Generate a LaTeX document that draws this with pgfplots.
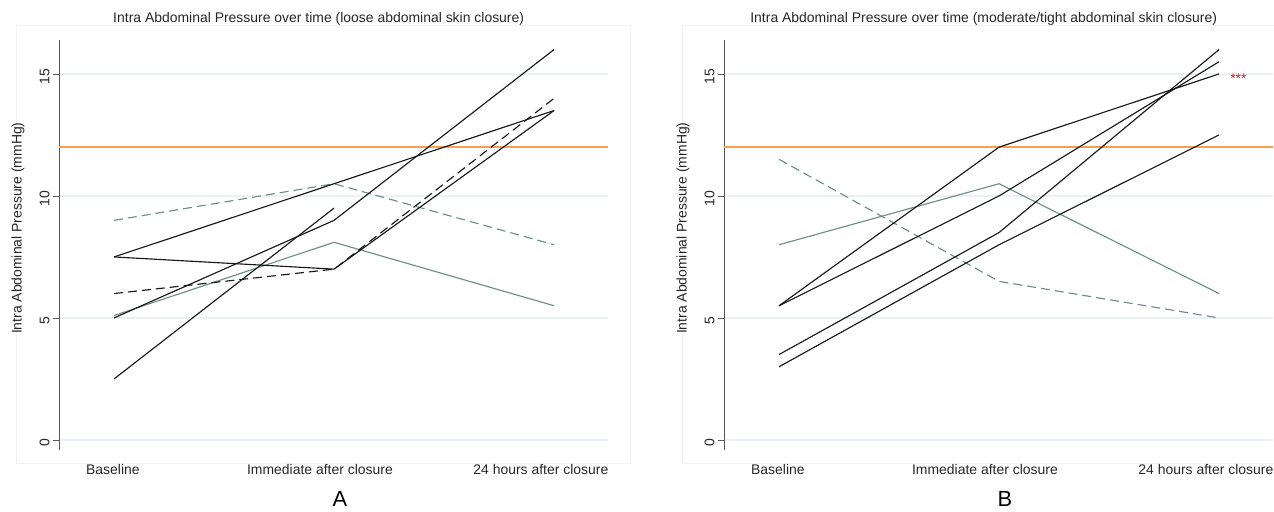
\documentclass[border=0pt]{standalone}
\usepackage{pgfplots}
\pgfplotsset{compat=1.18}
\usepackage{fontspec}
\setmainfont{Liberation Sans}
\definecolor{ggreen}{RGB}{112,142,130}
\definecolor{gridblue}{RGB}{234,240,246}
\definecolor{iaporange}{RGB}{247,160,80}
\definecolor{starred}{RGB}{220,30,30}
\definecolor{lineblack}{RGB}{25,25,25}
\pgfplotsset{
  iapstyle/.style={
    scale only axis, width=549bp, height=410bp,
    anchor=south west,
    xmin=-0.25, xmax=2.245, ymin=-0.41, ymax=16.39,
    axis y line*=left, axis x line*=bottom,
    x axis line style={draw=none},
    y axis line style={color=black!65, line width=0.8bp},
    xtick={-0.005,0.936,1.94},
    xticklabels={Baseline, Immediate after closure, 24 hours after closure},
    xtick style={draw=none},
    ytick={0,5,10,15},
    ytick style={color=black!65, line width=0.8bp},
    tick align=outside, major tick length=6bp,
    ymajorgrids, grid style={color=gridblue, line width=1.2bp},
    /pgf/number format/assume math mode=true,
    tick label style={font=\fontsize{14}{16}\selectfont, color=black!85},
    yticklabel style={rotate=90, anchor=south, xshift=-3bp},
    xticklabel style={yshift=-5bp},
    every axis y label/.style={at={(axis description cs:-0.0747,0.541)}, rotate=90, anchor=center,
      font=\fontsize{14}{16}\selectfont, color=black!85},
    ylabel={Intra Abdominal Pressure (mmHg)},
    every axis title/.style={at={(axis description cs:0.473,1)}, anchor=center, yshift=21bp,
      font=\fontsize{14}{16}\selectfont, color=black!85},
    clip=false,
    every axis plot/.append style={line width=1.15bp, no markers},
  },
  dsh/.style={dash pattern=on 9bp off 5bp},
}
\begin{document}
\begin{tikzpicture}[x=1bp,y=1bp]
\path[use as bounding box] (0,0) rectangle (1274,512);
\draw[black!5] (16,49) rectangle (630,487);
\draw[black!5] (682,49) -- (682,487) -- (1274,487);
\draw[black!5] (682,49) -- (1274,49);
% Panel A
\begin{axis}[iapstyle, at={(59bp,62bp)},
  title={Intra Abdominal Pressure over time (loose abdominal skin closure)}]
\addplot[iaporange, line width=1.5bp] coordinates {(-0.25,12) (2.245,12)};
\addplot[ggreen] coordinates {(0,5.1) (1,8.1) (2,5.5)};
\addplot[ggreen, dsh] coordinates {(0,9) (1,10.5) (2,8)};
\addplot[lineblack] coordinates {(0,2.5) (1,9.5)};
\addplot[lineblack] coordinates {(0,5) (1,9) (2,16)};
\addplot[lineblack] coordinates {(0,7.5) (1,10.5) (2,13.5)};
\addplot[lineblack] coordinates {(0,7.5) (1,7) (2,13.5)};
\addplot[lineblack, dsh] coordinates {(0,6) (1,7) (2,14)};
\end{axis}
% Panel B
\begin{axis}[iapstyle, at={(724bp,62bp)},
  title={Intra Abdominal Pressure over time (moderate/tight abdominal skin closure)}]
\addplot[iaporange, line width=1.5bp] coordinates {(-0.25,12) (2.245,12)};
\addplot[ggreen] coordinates {(0,8) (1,10.5) (2,6)};
\addplot[ggreen, dsh] coordinates {(0,11.5) (1,6.5) (2,5)};
\addplot[lineblack] coordinates {(0,5.5) (1,12) (2,15)};
\addplot[lineblack] coordinates {(0,5.5) (1,10) (2,15.5)};
\addplot[lineblack] coordinates {(0,3.5) (1,8.5) (2,16)};
\addplot[lineblack] coordinates {(0,3) (1,8) (2,12.5)};
\node[anchor=west, text=starred, font=\fontsize{14}{14}\selectfont, inner sep=0pt] at (axis cs:2.05,14.8) {***};
\end{axis}
\node[font=\fontsize{22}{24}\selectfont] at (340,13) {A};
\node[font=\fontsize{22}{24}\selectfont] at (1005,13) {B};
\end{tikzpicture}
\end{document}
